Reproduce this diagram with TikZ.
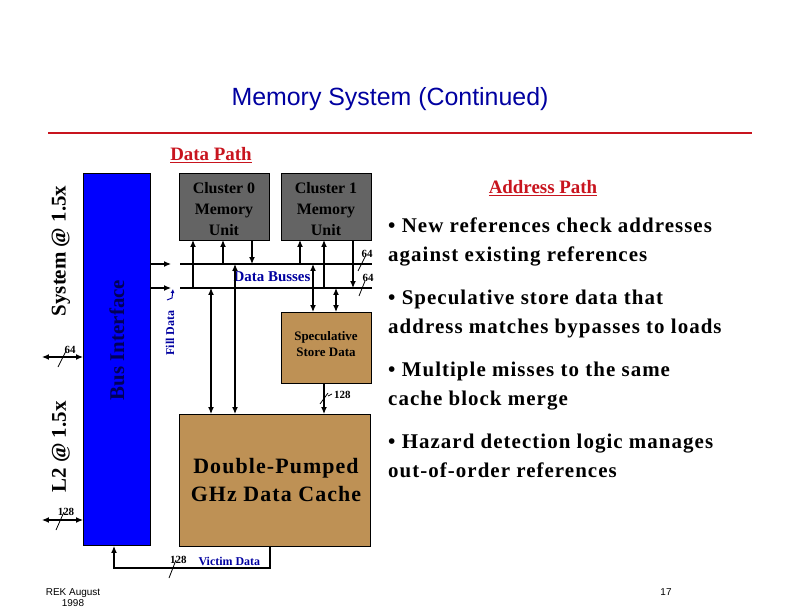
\documentclass[tikz,border=0pt]{standalone}
\usepackage{fontspec}
\setmainfont{Liberation Serif}
\newfontfamily\sans{Liberation Sans}
\newfontfamily\wide[LetterSpace=5]{Liberation Serif}
\usetikzlibrary{arrows.meta}
\definecolor{tan}{RGB}{190,145,85}
\definecolor{gry}{RGB}{100,100,100}
\definecolor{navy}{RGB}{0,0,160}
\definecolor{tred}{RGB}{200,20,30}
\begin{document}
\begin{tikzpicture}[x=1bp,y=-1bp,
  box/.style={draw=black,line width=1.2pt,inner sep=0pt,anchor=north west},
  ln/.style={line width=1.2pt},
  ar/.style={ln,-{Latex[length=7pt,width=6pt]}},
  br/.style={ln,{Latex[length=7pt,width=6pt]}-{Latex[length=7pt,width=6pt]}},
  sl/.style={line width=0.8pt},
  lab/.style={font=\bfseries\fontsize{11}{12}\selectfont,inner sep=0pt},
  bul/.style={font=\wide\bfseries\fontsize{21}{28.5}\selectfont,anchor=north west,align=left,inner sep=0pt}]
\useasboundingbox (0,0) rectangle (792,612);
\node[font=\sans\fontsize{25}{28}\selectfont,text=navy] (title) at (390,99) {Memory System (Continued)};
\draw[tred,line width=2.5pt] (48,133) -- (752,133);
\node[text=tred,font=\bfseries\fontsize{19}{20}\selectfont] (dp) at (211,155) {\underline{Data Path}};
\node[text=tred,font=\bfseries\fontsize{19}{20}\selectfont] (ap) at (543,188) {\underline{Address Path}};
% boxes
\node[box,fill=blue,minimum width=67,minimum height=373] (bi) at (83,173) {};
\node[rotate=90,font=\bfseries\fontsize{21}{22}\selectfont,text=blue!35!black] (bit) at (117,340) {Bus Interface};
\node[box,fill=gry,minimum width=90,minimum height=67] (c0) at (179,173) {};
\node[font=\bfseries\fontsize{16}{21}\selectfont,align=center] (c0t) at (224,209) {Cluster 0\\Memory\\Unit};
\node[box,fill=gry,minimum width=90,minimum height=67] (c1) at (281,173) {};
\node[font=\bfseries\fontsize{16}{21}\selectfont,align=center] (c1t) at (326,209) {Cluster 1\\Memory\\Unit};
\node[box,fill=tan,minimum width=90,minimum height=71] (ss) at (281,312) {};
\node[font=\bfseries\fontsize{13}{16}\selectfont,align=center] (sst) at (326,344) {Speculative\\Store Data};
\node[box,fill=tan,minimum width=192,minimum height=132] (dc) at (179,414) {};
\node[font=\wide\bfseries\fontsize{22}{28}\selectfont,align=center] (dct) at (276,480) {Double-Pumped\\GHz Data Cache};
% busses
\coordinate (b1l) at (180,264); \coordinate (b1r) at (372,264);
\coordinate (b2l) at (180,288); \coordinate (b2r) at (372,288);
\draw[ln] (b1l) -- (b1r); \draw[ln] (b2l) -- (b2r);
\draw[ar] (150,264) -- (171,264);
\draw[ar] (150,288) -- (171,288);
\node[text=navy,font=\bfseries\fontsize{15}{16}\selectfont] (dbt) at (272,277) {Data Busses};
% cluster connections
\draw[ar] (193,288) -- (193,240);
\draw[ar] (223,264) -- (223,240);
\draw[ar] (252,240) -- (252,264);
\draw[ar] (300,264) -- (300,240);
\draw[ar] (324,288) -- (324,240);
\draw[ar] (353,240) -- (353,288);
% cache
\draw[br] (211,288) -- (211,414);
\draw[br] (235,264) -- (235,414);
\draw[br] (313,264) -- (313,312);
\draw[br] (336,288) -- (336,312);
\draw[ar] (324,383) -- (324,414);
\draw[sl] (320,404) -- (328,393); \draw[sl] (328,396) -- (332,394);
\node[lab,anchor=west] (l128a) at (334,395) {128};
% bus width slashes
\draw[sl] (358,271) -- (365,257); \node[lab] (l64a) at (367,254) {64};
\draw[sl] (359,296) -- (365,281); \node[lab] (l64b) at (368,278) {64};
% fill data
\node[rotate=90,text=navy,font=\bfseries\fontsize{12}{12}\selectfont] (fd) at (170,333) {Fill Data};
\draw[navy,line width=1pt,-{Latex[length=4pt,width=4pt]}] (167,300) -- (172,298) -- (173,289);
% victim
\draw[ar] (270,546) -- (270,568) -- (114,568) -- (114,546);
\draw[sl] (169,578) -- (176,560);
\node[lab,anchor=west] (l128v) at (170,560) {128};
\node[text=navy,font=\bfseries\fontsize{12}{12}\selectfont,anchor=west] (vd) at (195,561) {Victim Data};
% left io
\draw[br] (42,357) -- (83,357);
\draw[sl] (58,367) -- (66,351); \node[lab] (l64c) at (70,350) {64};
\draw[br] (42,520) -- (83,520);
\draw[sl] (56,530) -- (64,512); \node[lab] (l128c) at (66,512) {128};
\node[rotate=90,font=\bfseries\fontsize{21}{22}\selectfont] (sys) at (61,251) {System @ 1.5x};
\node[rotate=90,font=\bfseries\fontsize{21}{22}\selectfont] (l2) at (61,447) {L2 @ 1.5x};
% bullets
\node[bul] (t1) at (388,218) {• New references check addresses\\against existing references};
\node[bul] (t2) at (388,290) {• Speculative store data that\\address matches bypasses to loads};
\node[bul] (t3) at (388,362) {• Multiple misses to the same\\cache block merge};
\node[bul] (t4) at (388,434) {• Hazard detection logic manages\\out-of-order references};
% footer
\node[font=\sans\fontsize{10}{11}\selectfont,align=center] (ft) at (73,598) {REK August\\1998};
\node[font=\sans\fontsize{10}{11}\selectfont] (pg) at (666,592) {17};
\end{tikzpicture}
\end{document}
